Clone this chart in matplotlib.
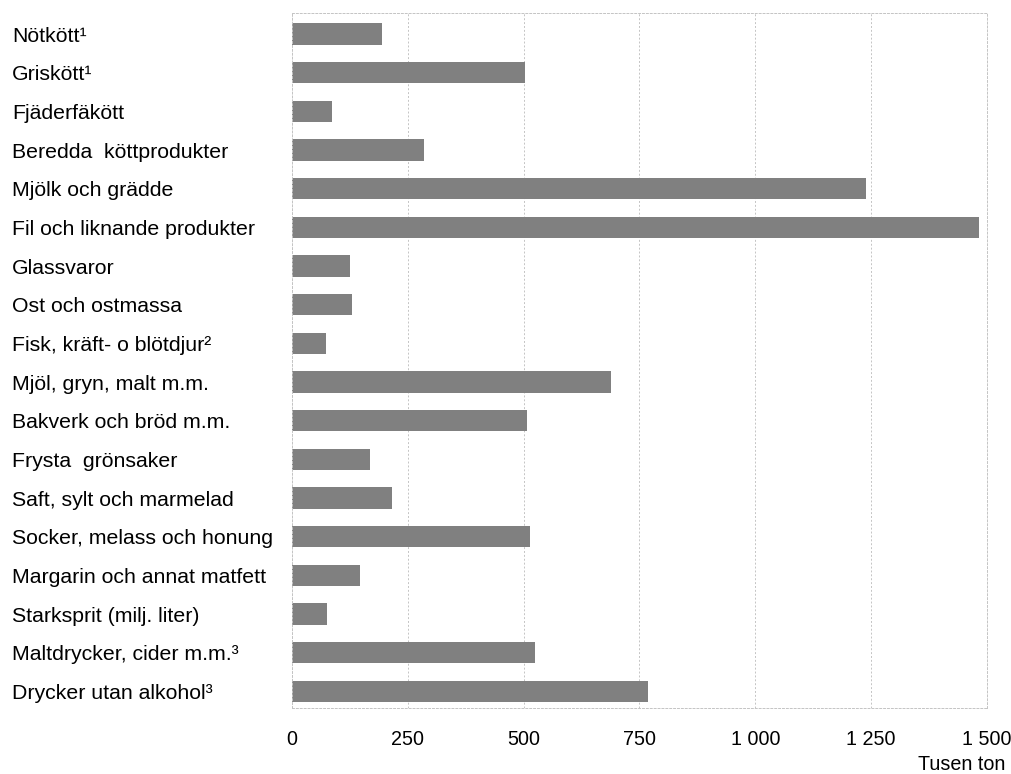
import matplotlib
matplotlib.use("Agg")
import matplotlib.pyplot as plt
from matplotlib.ticker import FuncFormatter

# Data (tusen ton)
categories = [
    "Nötkött¹",
    "Griskött¹",
    "Fjäderfäkött",
    "Beredda  köttprodukter",
    "Mjölk och grädde",
    "Fil och liknande produkter",
    "Glassvaror",
    "Ost och ostmassa",
    "Fisk, kräft- o blötdjur²",
    "Mjöl, gryn, malt m.m.",
    "Bakverk och bröd m.m.",
    "Frysta  grönsaker",
    "Saft, sylt och marmelad",
    "Socker, melass och honung",
    "Margarin och annat matfett",
    "Starksprit (milj. liter)",
    "Maltdrycker, cider m.m.³",
    "Drycker utan alkohol³",
]
values = [195, 503, 87, 284, 1239, 1483, 126, 129, 74, 688, 508, 169, 215, 514, 146, 76, 524, 768]
x_ticks = [0, 250, 500, 750, 1000, 1250, 1500]

plt.rcParams["font.family"] = ["Liberation Sans", "DejaVu Sans"]

fig = plt.figure(figsize=(10.12, 7.74), dpi=100)
ax = fig.add_axes([0.2885, 0.0853, 0.6868, 0.8979])

ypos = list(range(len(categories)))
ax.barh(ypos, values, height=0.55, color="#808080", zorder=2)

ax.set_xlim(0, 1500)
ax.set_ylim(17.43, -0.545)
ax.set_xticks(x_ticks)
ax.xaxis.set_major_formatter(FuncFormatter(lambda v, p: f"{int(v):,}".replace(",", " ")))
ax.set_yticks(ypos)
ax.set_yticklabels(categories, ha="left")

ax.tick_params(axis="y", length=0, pad=201.6, labelsize=15.3)
ax.tick_params(axis="x", length=0, pad=16, labelsize=14.2)

ax.grid(axis="x", linestyle=(0, (2, 2)), color="#c4c4c4", linewidth=0.7, zorder=0)
for s in ax.spines.values():
    s.set_linestyle((0, (2, 2)))
    s.set_color("#c4c4c4")
    s.set_linewidth(0.7)

fig.text(0.993, 0.0, "Tusen ton", ha="right", va="bottom", fontsize=14.2)

fig.savefig("out.png", dpi=100)
